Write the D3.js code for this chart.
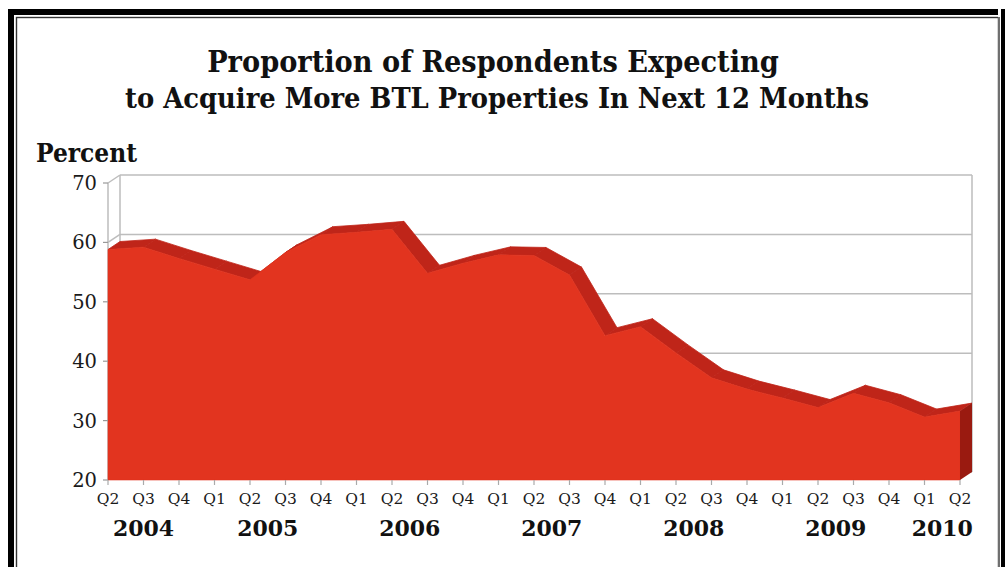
<!DOCTYPE html>
<html>
<head>
<meta charset="utf-8">
<script src="https://cdn.jsdelivr.net/npm/d3@7"></script>
<style>
  html, body { margin: 0; padding: 0; background: #fff; }
  svg { display: block; }
  text { font-family: "DejaVu Serif", "Liberation Serif", serif; }
  .cond { font-family: "DejaVu Serif Condensed", "DejaVu Serif", serif; font-stretch: condensed; }
</style>
</head>
<body>
<svg id="chart" width="1005" height="567"></svg>
<script>
// ---- data ----
const titleLines = ["Proportion of Respondents Expecting", "to Acquire More BTL Properties In Next 12 Months"];
const yAxisTitle = "Percent";
const quarterLabels = ["Q2","Q3","Q4","Q1","Q2","Q3","Q4","Q1","Q2","Q3","Q4","Q1","Q2","Q3","Q4","Q1","Q2","Q3","Q4","Q1","Q2","Q3","Q4","Q1","Q2"];
const quarterYears  = ["2004","2004","2004","2005","2005","2005","2005","2006","2006","2006","2006","2007","2007","2007","2007","2008","2008","2008","2008","2009","2009","2009","2009","2010","2010"];
const values = [58.8, 59.2, 57.3, 55.5, 53.7, 58.3, 61.3, 61.7, 62.2, 54.8, 56.5, 57.9, 57.8, 54.5, 44.3, 45.8, 41.4, 37.2, 35.3, 33.8, 32.2, 34.6, 33.0, 30.6, 31.6];
const yTicks = [20, 30, 40, 50, 60, 70];

// ---- layout ----
const svg = d3.select("#chart");
const X0 = 108, X1 = 960, YB = 480, YT = 183;
const DX = 12, DY = -8;
const x = d3.scaleLinear().domain([0, values.length - 1]).range([X0, X1]);
const y = d3.scaleLinear().domain([20, 70]).range([YB, YT]);

// frame
svg.append("rect").attr("x", 11).attr("y", 12).attr("width", 991).attr("height", 620)
  .attr("fill", "none").attr("stroke", "#000").attr("stroke-width", 6);
svg.append("rect").attr("x", 16.5).attr("y", 17.5).attr("width", 982).attr("height", 620)
  .attr("fill", "#fff").attr("stroke", "#333").attr("stroke-width", 1.4);
svg.append("rect").attr("x", 998).attr("y", 9).attr("width", 7).attr("height", 567).attr("fill", "#fff");
svg.append("rect").attr("x", 1001).attr("y", 9).attr("width", 4).attr("height", 567).attr("fill", "#000");
svg.append("line").attr("x1", 999).attr("x2", 999).attr("y1", 17).attr("y2", 567).attr("stroke", "#333").attr("stroke-width", 1.4);

// titles (fit to measured widths)
const titleSpecs = [
  {text: titleLines[0], cx: 493, base: 72, width: 572},
  {text: titleLines[1], cx: 497, base: 108, width: 744}
];
titleSpecs.forEach(s => {
  const t = svg.append("text").attr("class", "cond").attr("x", s.cx).attr("y", s.base)
    .attr("text-anchor", "middle").attr("font-weight", "bold")
    .attr("font-size", 26).attr("fill", "#111").text(s.text);
  const w = t.node().getComputedTextLength();
  t.attr("font-size", Math.min(31, 26 * s.width / w));
});

const pt = svg.append("text").attr("class", "cond").attr("x", 36).attr("y", 162).attr("font-weight", "bold")
  .attr("font-size", 22).attr("fill", "#111").text(yAxisTitle);
pt.attr("font-size", Math.min(26, 22 * 106 / pt.node().getComputedTextLength()));

const gridColor = "#bdbdbd";
// back wall gridlines
svg.append("g").selectAll("line").data(yTicks).join("line")
  .attr("x1", X0 + DX).attr("x2", X1 + DX)
  .attr("y1", d => y(d) + DY).attr("y2", d => y(d) + DY)
  .attr("stroke", gridColor).attr("stroke-width", 1.5);
// left wall diagonals
svg.append("g").selectAll("line").data(yTicks).join("line")
  .attr("x1", X0).attr("x2", X0 + DX)
  .attr("y1", d => y(d)).attr("y2", d => y(d) + DY)
  .attr("stroke", gridColor).attr("stroke-width", 1.5);
// wall verticals
[[X0, 0], [X0 + DX, DY], [X1 + DX, DY]].forEach(([xx, oy]) => {
  svg.append("line").attr("x1", xx).attr("x2", xx)
    .attr("y1", y(70) + oy).attr("y2", y(20) + oy)
    .attr("stroke", gridColor).attr("stroke-width", 1.5);
});

// 3D area: top ribbon
const topColor = "#bf2519", frontColor = "#e2341f", sideColor = "#9a1a10";
const segs = d3.range(values.length - 1);
svg.append("g").selectAll("path").data(segs).join("path")
  .attr("d", i => {
    const a = [x(i), y(values[i])], b = [x(i + 1), y(values[i + 1])];
    return `M${a[0]},${a[1]}L${b[0]},${b[1]}L${b[0] + DX},${b[1] + DY}L${a[0] + DX},${a[1] + DY}Z`;
  })
  .attr("fill", topColor).attr("stroke", topColor).attr("stroke-width", 0.8).attr("stroke-linejoin", "round");

// front face
const area = d3.area().x((d, i) => x(i)).y0(y(20)).y1(d => y(d));
svg.append("path").datum(values).attr("d", area).attr("fill", frontColor)
  .attr("stroke", frontColor).attr("stroke-width", 0.6);

// right side face
const n = values.length - 1;
svg.append("path")
  .attr("d", `M${x(n)},${y(values[n])}L${x(n) + DX},${y(values[n]) + DY}L${x(n) + DX},${y(20) + DY}L${x(n)},${y(20)}Z`)
  .attr("fill", sideColor);

// y axis ticks & labels
svg.append("g").selectAll("line").data(yTicks).join("line")
  .attr("x1", X0 - 5).attr("x2", X0).attr("y1", d => y(d)).attr("y2", d => y(d))
  .attr("stroke", "#999").attr("stroke-width", 1.2);
svg.append("g").selectAll("text").data(yTicks).join("text")
  .attr("x", 97).attr("y", d => y(d)).attr("dy", "0.36em")
  .attr("text-anchor", "end").attr("font-size", 19.5).attr("fill", "#1a1a1a")
  .text(d => d);

// x axis ticks & quarter labels
svg.append("g").selectAll("line").data(quarterLabels).join("line")
  .attr("x1", (d, i) => x(i)).attr("x2", (d, i) => x(i))
  .attr("y1", YB).attr("y2", YB + 5)
  .attr("stroke", "#aaa").attr("stroke-width", 1.2);
svg.append("g").selectAll("text").data(quarterLabels).join("text")
  .attr("x", (d, i) => x(i)).attr("y", 504)
  .attr("text-anchor", "middle").attr("font-size", 15.5).attr("fill", "#1a1a1a")
  .text(d => d);

// year labels centred on their quarters
const yearGroups = d3.groups(quarterYears.map((yr, i) => ({yr, i})), d => d.yr);
svg.append("g").selectAll("text").data(yearGroups).join("text")
  .attr("x", d => x(d3.mean(d[1], e => e.i)))
  .attr("y", 536).attr("text-anchor", "middle").attr("font-weight", "bold")
  .attr("font-size", 22).attr("fill", "#111")
  .text(d => d[0]);
</script>
</body>
</html>
